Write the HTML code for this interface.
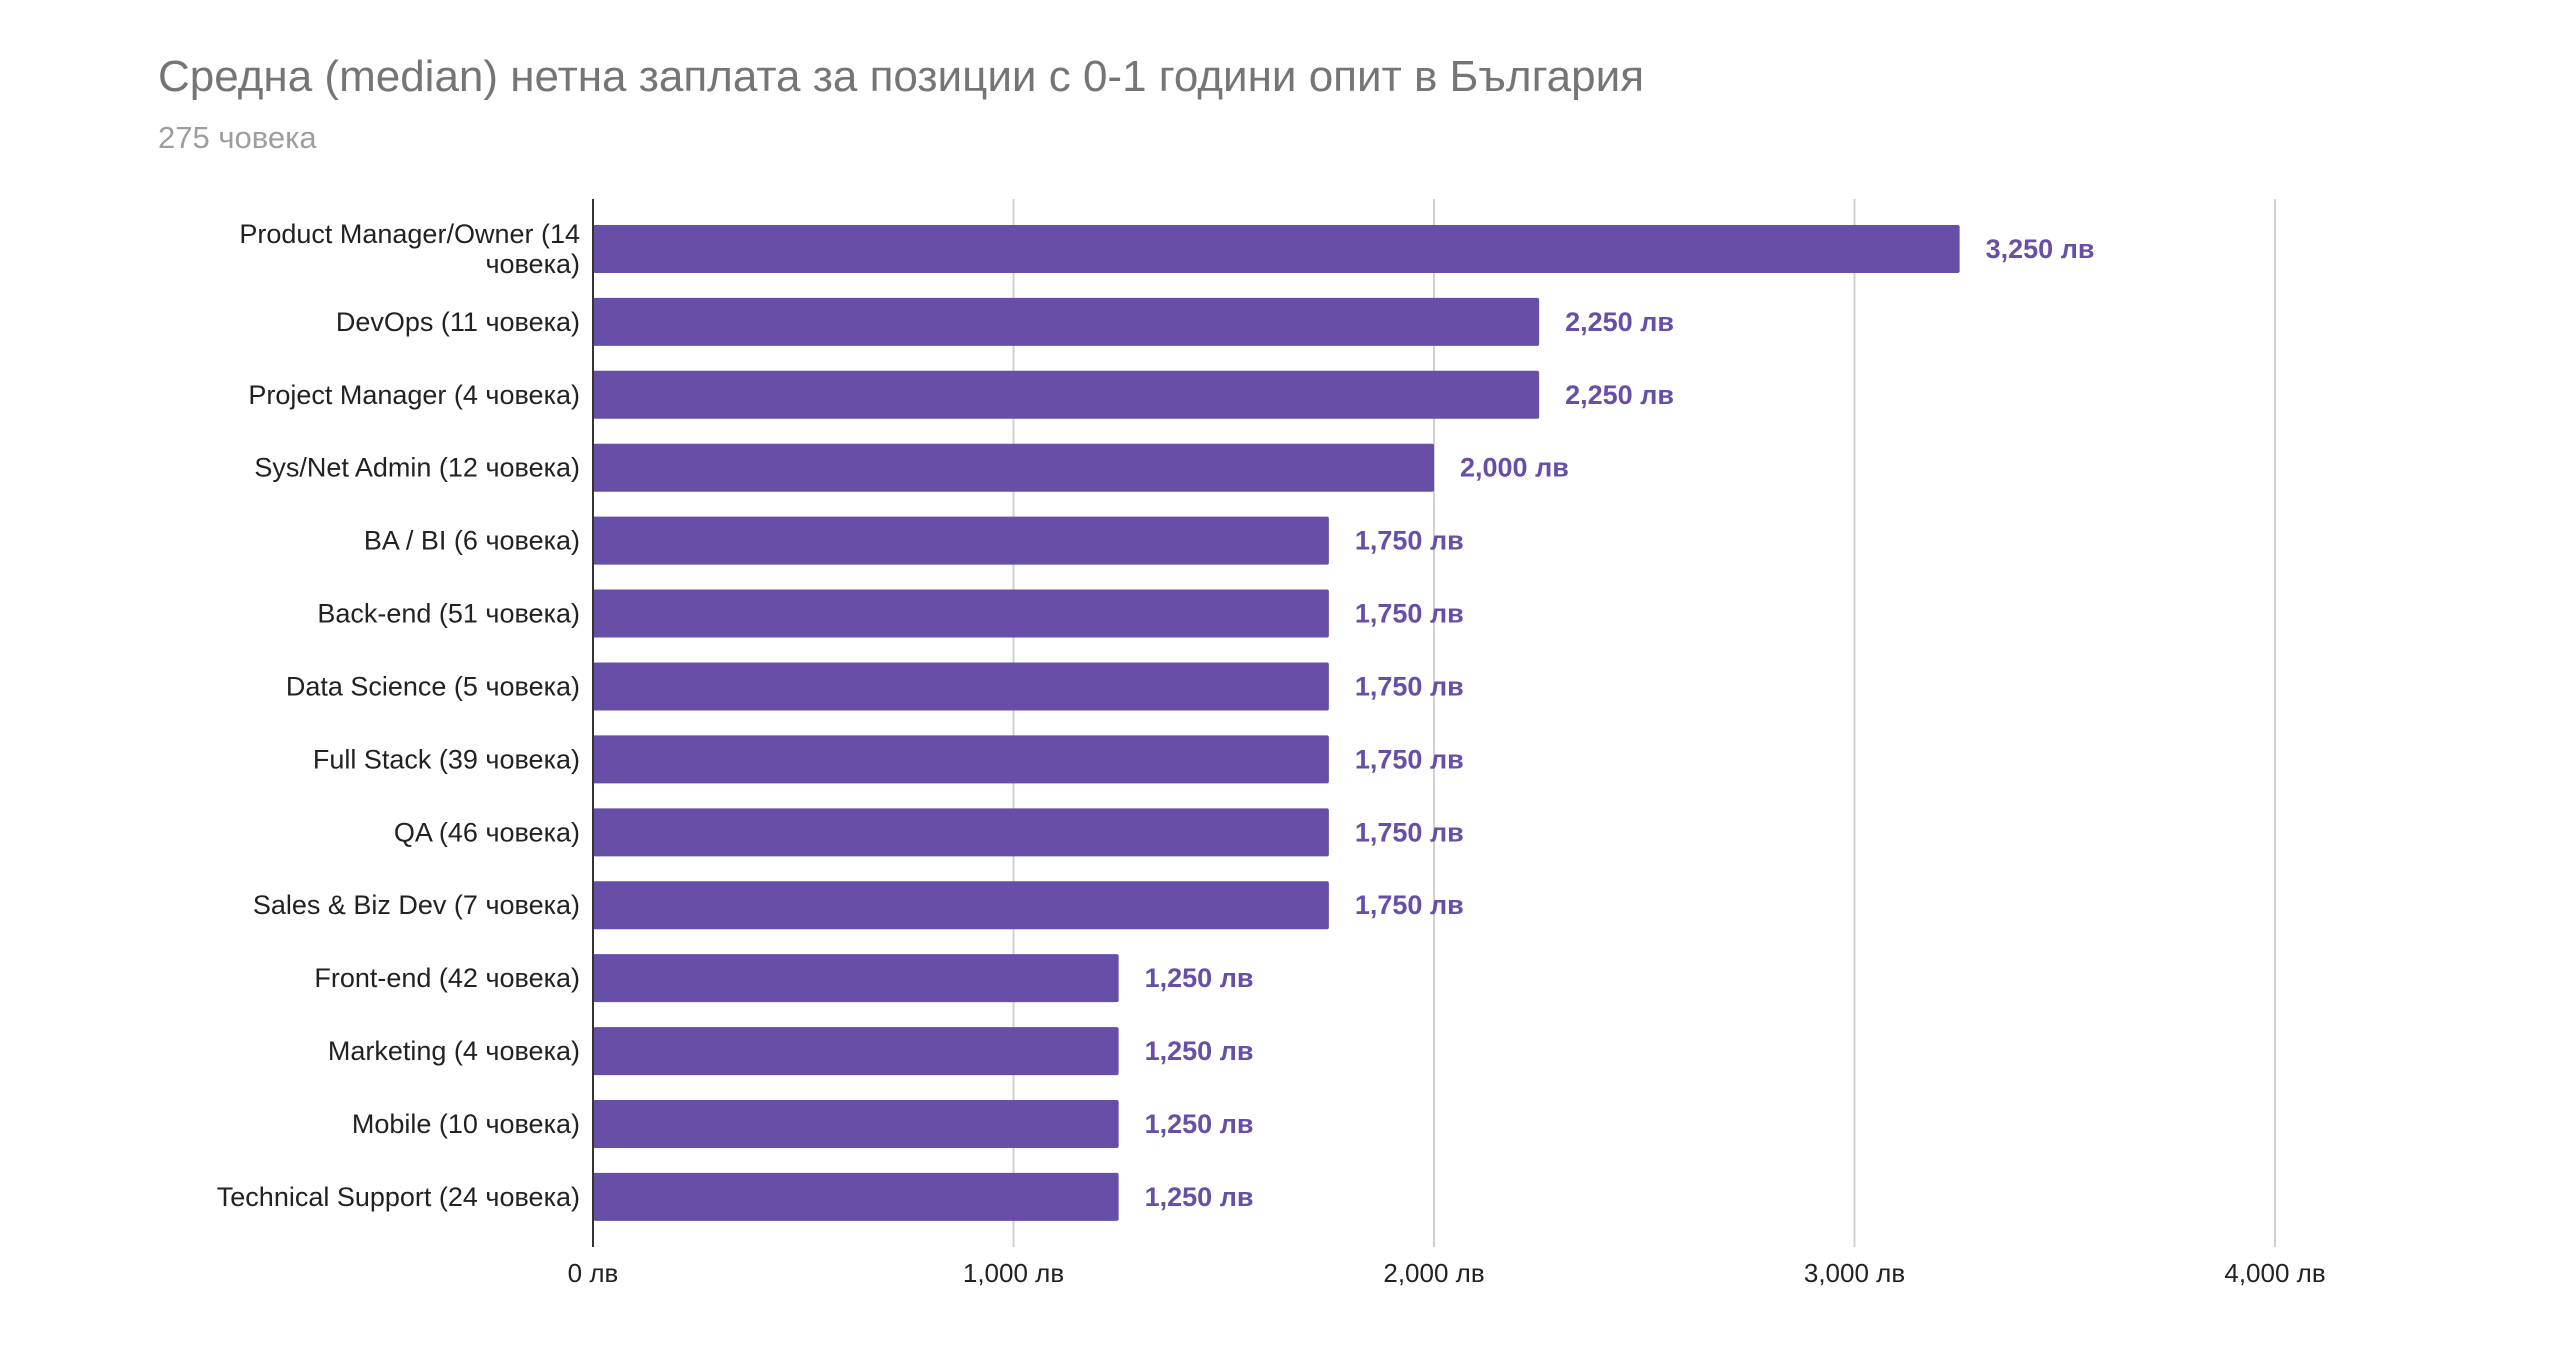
<!DOCTYPE html>
<html><head><meta charset="utf-8"><style>
body{margin:0;background:#fff;width:2560px;height:1353px;overflow:hidden;font-family:"Liberation Sans","DejaVu Sans",sans-serif}
</style></head><body>
<svg width="2560" height="1353" xmlns="http://www.w3.org/2000/svg">
<text x="158" y="91" font-size="44" fill="#757575">Средна (median) нетна заплата за позиции с 0-1 години опит в България</text>
<text x="158" y="148" font-size="31" fill="#9e9e9e">275 човека</text>
<g id="grid"></g><g id="bars"></g><g id="labels"></g>
</svg>
<script>
const categories=["Product Manager/Owner (14|човека)","DevOps (11 човека)","Project Manager (4 човека)","Sys/Net Admin (12 човека)","BA / BI (6 човека)","Back-end (51 човека)","Data Science (5 човека)","Full Stack (39 човека)","QA (46 човека)","Sales & Biz Dev (7 човека)","Front-end (42 човека)","Marketing (4 човека)","Mobile (10 човека)","Technical Support (24 човека)"];
const values=[3250,2250,2250,2000,1750,1750,1750,1750,1750,1750,1250,1250,1250,1250];
const ticks=[0,1000,2000,3000,4000];
const NS="http://www.w3.org/2000/svg";
const x0=593,pxPer=420.5/1000,top0=199,bottom=1247,bandTop=212.5,band=72.92,bh=48;
const xs=v=>x0+v*pxPer, yc=i=>bandTop+band*(i+0.5);
const fmt=v=>v.toLocaleString('en-US')+' лв';
function mk(tag,attrs,parent,txt){const e=document.createElementNS(NS,tag);for(const k in attrs)e.setAttribute(k,attrs[k]);if(txt!==undefined)e.textContent=txt;document.getElementById(parent).appendChild(e);return e;}
ticks.forEach(t=>{
 if(t>0){const l=mk('line',{x1:xs(t),x2:xs(t),y1:top0,y2:bottom,stroke:'#d0d0d0','stroke-width':2},'grid');
 
 }
 const tx=mk('text',{x:xs(t),y:1282,'font-size':26,'text-anchor':'middle',fill:'#222'},'labels',fmt(t));
 
 
});
values.forEach((v,i)=>{
 const r=mk('rect',{x:x0,y:yc(i)-bh/2,width:xs(v)-x0,height:bh,fill:'#674ea7',rx:2},'bars');
 
 
 const vl=mk('text',{x:xs(v)+26,y:yc(i)+9,'font-size':27,'font-weight':'bold',fill:'#674ea7'},'labels',fmt(v));
 
 
 const parts=categories[i].split('|');
 parts.forEach((p,j)=>{
  const off=parts.length>1?(j===0?-6:24):9;
  const cl=mk('text',{x:580,y:yc(i)+off,'font-size':27,'text-anchor':'end',fill:'#222'},'labels',p);
  
  
 });
});
const ax=mk('line',{x1:x0,x2:x0,y1:top0,y2:bottom,stroke:'#333','stroke-width':2},'labels');


</script>
</body></html>
